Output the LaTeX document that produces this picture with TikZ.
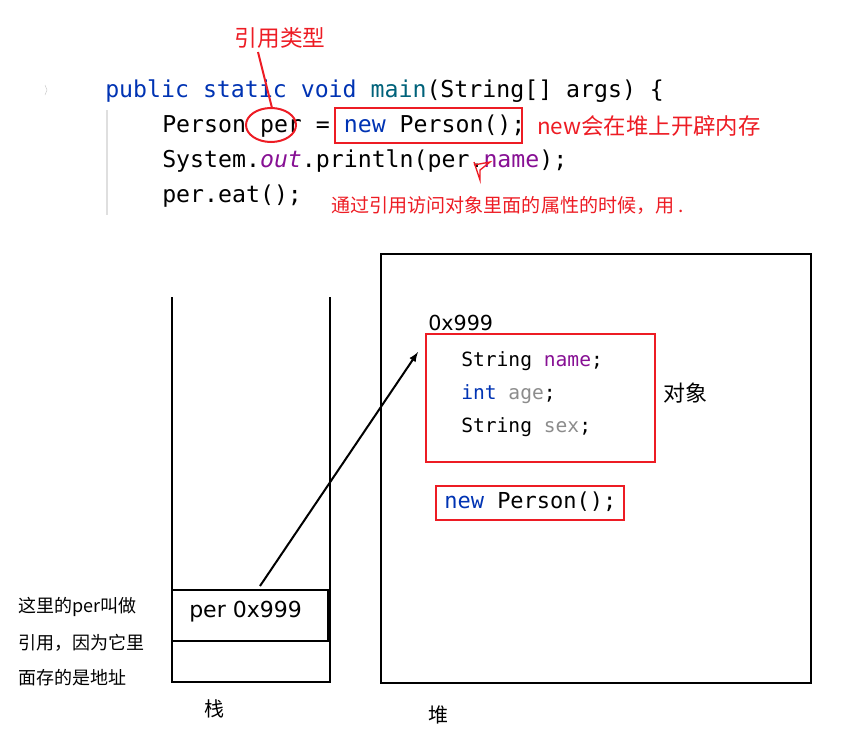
\documentclass[tikz,border=0pt]{standalone}
\usepackage{fontspec}
\setmonofont{DejaVu Sans Mono}
\setmainfont{DejaVu Sans}
\newfontfamily\cjk{Noto Sans CJK SC}
\definecolor{kw}{HTML}{0033B3}
\definecolor{fn}{HTML}{00627A}
\definecolor{pu}{HTML}{871094}
\definecolor{gr}{HTML}{8C8C8C}
\definecolor{rd}{HTML}{ED1C24}
\begin{document}
\begin{tikzpicture}[x=0.75pt,y=-0.75pt,
  code/.style={anchor=west,inner sep=0,font=\ttfamily\fontsize{17.4}{20}\selectfont},
  hcode/.style={anchor=west,inner sep=0,font=\ttfamily\fontsize{14.7}{18}\selectfont},
  redbox/.style={draw=rd,line width=2pt},
  cn/.style={inner sep=0,font=\cjk}]
\useasboundingbox (0,0) rectangle (853,732);
\draw[gray!25,line width=1pt] (107,110) -- (107,215);
\draw[gray!40] (45,85) -- (47,90) -- (45,95);
\node[code] (l1) at (105,91) {\textcolor{kw}{public static void} \textcolor{fn}{main}(String[] args) \{};
\node[code] (l2) at (162,126) {Person per = \textcolor{kw}{new} Person();};
\node[code] (l3) at (162,161) {System.\textcolor{pu}{\itshape out}.println(per.\textcolor{pu}{name});};
\node[code] (l4) at (162,196) {per.eat();};
\node[cn,text=rd,font=\cjk\fontsize{17}{20}\selectfont] (t1) at (280,38) {引用类型};
\draw[rd,line width=1.5pt] (271,125) ellipse (25 and 17);
\draw[rd,line width=1.5pt] (258,52) -- (272,108);
\draw[redbox] (335,108) rectangle (522,143);
\node[cn,anchor=west,text=rd,font=\cjk\fontsize{16.8}{20}\selectfont] (t2) at (537,126) {new会在堆上开辟内存};
\draw[rd,line width=1pt] (474,162) -- (480,180) -- (480,170) -- (490,162) -- (474,165);
\node[cn,anchor=west,text=rd,font=\cjk\fontsize{14.3}{16}\selectfont] (t3) at (331,205) {通过引用访问对象里面的属性的时候，用 .};
% stack
\draw[line width=1.5pt] (172,297) -- (172,682) -- (330,682) -- (330,297);
\draw[line width=2pt] (172,590) rectangle (328,641);
\node[anchor=west,inner sep=0,font=\fontsize{16.5}{18}\selectfont] (pv) at (189,612) {per 0x999};
\node[cn,font=\cjk\fontsize{15}{18}\selectfont] (zhan) at (214,709) {栈};
\node[cn,anchor=west,font=\cjk\fontsize{13.5}{16}\selectfont] (n1) at (18,607) {这里的per叫做};
\node[cn,anchor=west,font=\cjk\fontsize{13.5}{16}\selectfont] (n2) at (18,643) {引用，因为它里};
\node[cn,anchor=west,font=\cjk\fontsize{13.5}{16}\selectfont] (n3) at (18,678) {面存的是地址};
% heap
\draw[line width=1.5pt] (381,254) rectangle (811,683);
\node[cn,font=\cjk\fontsize{15}{18}\selectfont] (dui) at (438,715) {堆};
\node[anchor=west,inner sep=0,font=\fontsize{15.5}{18}\selectfont] (addr) at (428,323) {0x999};
\draw[redbox] (426,334) rectangle (655,462);
\node[hcode] (f1) at (461,361) {String \textcolor{pu}{name};};
\node[hcode] (f2) at (461,394) {\textcolor{kw}{int} \textcolor{gr}{age};};
\node[hcode] (f3) at (461,427) {String \textcolor{gr}{sex};};
\node[cn,anchor=west,font=\cjk\fontsize{16.5}{20}\selectfont] (obj) at (663,393) {对象};
\draw[redbox] (436,486) rectangle (624,520);
\node[hcode,font=\ttfamily\fontsize{16.5}{20}\selectfont] (np) at (444,502) {\textcolor{kw}{new} Person();};
\coordinate (as) at (260,586);
\coordinate (ae) at (418,352);
\draw[-latex,line width=1.5pt] (as) -- (ae);
\end{tikzpicture}
\end{document}
